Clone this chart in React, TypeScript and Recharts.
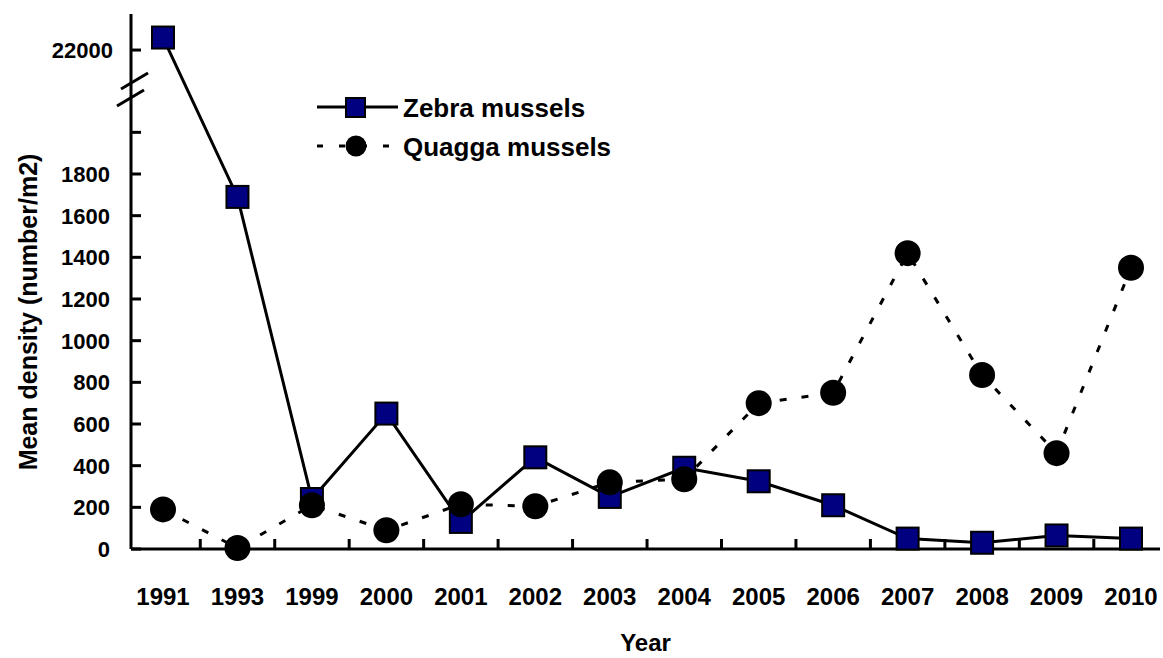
import React from 'react'
import { Label, Legend, Line, LineChart, XAxis, YAxis } from 'recharts'

const years = ['1991', '1993', '1999', '2000', '2001', '2002', '2003', '2004', '2005', '2006', '2007', '2008', '2009', '2010']
const zebraDensity = [22600, 1690, 240, 650, 130, 440, 250, 390, 325, 210, 50, 30, 65, 50]
const quaggaDensity = [190, 5, 210, 90, 215, 205, 320, 335, 700, 750, 1420, 835, 460, 1350]

const lowerTicks = [0, 200, 400, 600, 800, 1000, 1200, 1400, 1600, 1800]
const breakStart = 2000
const upperTick = 22000

// broken y axis: linear up to 2000, then a compressed segment around 22000
const UPPER_BASE = 2395
const UPPER_SCALE = 0.1
const BREAK_AT = 2203
const toPlot = (v: number) => (v <= breakStart ? v : UPPER_BASE + (v - upperTick) * UPPER_SCALE)

const data = years.map((year, i) => ({
  year,
  zebra: toPlot(zebraDensity[i]),
  quagga: toPlot(quaggaDensity[i]),
}))

const yTicks = [...lowerTicks, breakStart, BREAK_AT, toPlot(upperTick)]

const FONT = "'Liberation Sans', Arial, sans-serif"
const HALF_STEP = 37.2

const YTick = (props: any) => {
  const { x, y, payload } = props
  const v = payload.value
  if (v === BREAK_AT) {
    return (
      <g stroke="#000" strokeWidth={3}>
        <line x1={x - 10} y1={y - 1} x2={x + 17} y2={y - 17} />
        <line x1={x - 14} y1={y + 16} x2={x + 13} y2={y} />
      </g>
    )
  }
  const isUpper = v === toPlot(upperTick)
  const label = isUpper ? upperTick : v === breakStart ? null : v
  return (
    <g>
      <line x1={x} y1={y} x2={x + 10} y2={y} stroke="#000" strokeWidth={3} />
      {label !== null && (
        <text x={x - (isUpper ? 18 : 21)} y={y} dy={8} textAnchor="end" fontFamily={FONT} fontWeight="bold" fontSize={22} fill="#000">
          {label}
        </text>
      )}
    </g>
  )
}

const XTick = (props: any) => {
  const { x, y, payload } = props
  const idx = years.indexOf(payload.value)
  return (
    <g>
      {idx > 0 && <line x1={x - HALF_STEP} y1={y} x2={x - HALF_STEP} y2={y - 10} stroke="#000" strokeWidth={3} />}
      <text x={x} y={y + 56} textAnchor="middle" fontFamily={FONT} fontWeight="bold" fontSize={24} fill="#000">
        {payload.value}
      </text>
    </g>
  )
}

const SquareDot = (props: any) => {
  const { cx, cy } = props
  if (cx == null || cy == null) return null
  return <rect x={cx - 11} y={cy - 11} width={22} height={22} fill="#000080" stroke="#000" strokeWidth={2} />
}

const CircleDot = (props: any) => {
  const { cx, cy } = props
  if (cx == null || cy == null) return null
  return <circle cx={cx} cy={cy} r={13} fill="#000" stroke="none" />
}

const renderLegend = () => (
  <svg width={340} height={80}>
    <line x1={7} y1={22} x2={88} y2={22} stroke="#000" strokeWidth={3} />
    <rect x={36} y={13} width={19} height={19} fill="#000080" stroke="#000" strokeWidth={2} />
    <text x={93} y={31.5} fontFamily={FONT} fontWeight="bold" fontSize={26} fill="#000">
      Zebra mussels
    </text>
    <line x1={7} y1={61} x2={83} y2={61} stroke="#000" strokeWidth={3} strokeDasharray="6 16" />
    <circle cx={46} cy={61} r={10.5} fill="#000" />
    <text x={93} y={70.5} fontFamily={FONT} fontWeight="bold" fontSize={26} fill="#000">
      Quagga mussels
    </text>
  </svg>
)

export default function App() {
  return (
    <div style={{ position: 'absolute', left: 0, top: 0, background: '#fff' }}>
      <LineChart width={1163} height={658} data={data} margin={{ top: 14, right: 3, bottom: 0, left: 0 }}>
        <XAxis
          dataKey="year"
          type="category"
          height={109}
          padding={{ left: 32, right: 29 }}
          interval={0}
          tickLine={false}
          tickSize={0}
          tickMargin={0}
          axisLine={{ stroke: '#000', strokeWidth: 3 }}
          tick={<XTick />}
        >
          <Label
            content={(p: any) => {
              const vb = p.viewBox || {}
              return (
                <text x={vb.x + vb.width / 2} y={651} textAnchor="middle" fontFamily={FONT} fontWeight="bold" fontSize={24} fill="#000">
                  Year
                </text>
              )
            }}
          />
        </XAxis>
        <YAxis
          type="number"
          width={131}
          domain={[0, 2568]}
          ticks={yTicks}
          interval={0}
          tickLine={false}
          tickSize={0}
          tickMargin={0}
          axisLine={{ stroke: '#000', strokeWidth: 3 }}
          tick={<YTick />}
        >
          <Label
            content={() => (
              <text x={37} y={312} transform="rotate(-90 37 312)" textAnchor="middle" fontFamily={FONT} fontWeight="bold" fontSize={25} fill="#000">
                Mean density (number/m2)
              </text>
            )}
          />
        </YAxis>
        <Legend
          layout="horizontal"
          verticalAlign="middle"
          align="center"
          wrapperStyle={{ left: 310, top: 85, width: 340, height: 80 }}
          content={renderLegend}
        />
        <Line
          dataKey="zebra"
          name="Zebra mussels"
          stroke="#000"
          strokeWidth={3}
          dot={<SquareDot />}
          activeDot={false}
          isAnimationActive={false}
        />
        <Line
          dataKey="quagga"
          name="Quagga mussels"
          stroke="#000"
          strokeWidth={3}
          strokeDasharray="7 15"
          dot={<CircleDot />}
          activeDot={false}
          isAnimationActive={false}
        />
      </LineChart>
    </div>
  )
}
